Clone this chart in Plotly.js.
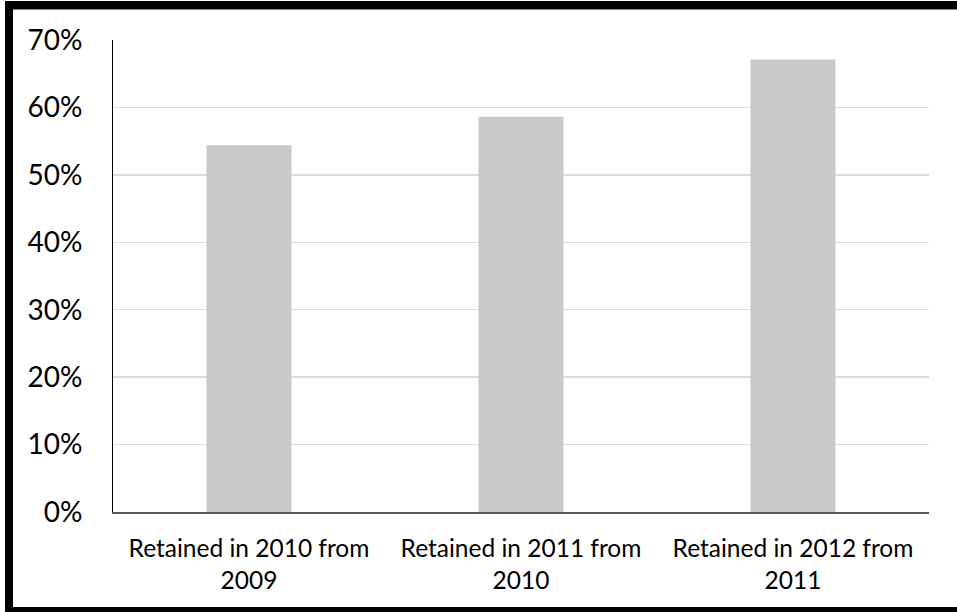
<!DOCTYPE html>
<html>
<head>
<meta charset="utf-8">
<script src="https://cdn.plot.ly/plotly-3.0.1.min.js"></script>
<style>
  html, body { margin: 0; padding: 0; background: #ffffff; }
  #chart { width: 957px; height: 612px; }
</style>
</head>
<body>
<div id="chart"></div>
<script>
// Share of members retained from one year to the next
const categories = [
  'Retained in 2010 from<br>2009',
  'Retained in 2011 from<br>2010',
  'Retained in 2012 from<br>2011'
];
const retained = [0.544, 0.586, 0.671];
const yTicks = [0, 0.1, 0.2, 0.3, 0.4, 0.5, 0.6, 0.7];

const W = 957, H = 612;
const M = { l: 113, r: 28, t: 40, b: 100 };
const plotW = W - M.l - M.r;
const plotH = H - M.t - M.b;

// frame pieces around the figure, given in pixels and mapped to paper units
function pxRect(x0, y0, x1, y1) {
  return {
    type: 'rect', xref: 'paper', yref: 'paper',
    x0: (x0 - M.l) / plotW, x1: (x1 - M.l) / plotW,
    y0: (H - M.b - y0) / plotH, y1: (H - M.b - y1) / plotH,
    fillcolor: '#000000', line: { width: 0 }, layer: 'above'
  };
}

const trace = {
  type: 'bar',
  x: categories,
  y: retained,
  marker: { color: '#c9c9c9', line: { width: 0 } },
  hoverinfo: 'x+y'
};

const layout = {
  width: W, height: H,
  margin: M,
  paper_bgcolor: '#ffffff',
  plot_bgcolor: '#ffffff',
  bargap: 0.6875,
  showlegend: false,
  font: { family: 'Lato, "Open Sans", sans-serif', color: '#000000' },
  xaxis: {
    type: 'category',
    showgrid: false,
    zeroline: false,
    showline: true,
    linecolor: '#595959',
    linewidth: 1.5,
    ticks: '',
    tickfont: { size: 24.5, color: '#000000' },
    ticklabelstandoff: 14
  },
  yaxis: {
    range: [0, 0.7],
    tickvals: yTicks,
    tickformat: '.0%',
    showgrid: true,
    gridcolor: '#dcdcdc',
    gridwidth: 1.5,
    zeroline: false,
    showline: true,
    linecolor: '#000000',
    linewidth: 1,
    ticks: '',
    tickfont: { size: 28, color: '#000000' },
    ticklabelstandoff: 24
  },
  shapes: [
    pxRect(5, 1, 957, 9.5),
    pxRect(5, 1, 13, 612),
    pxRect(5, 607, 957, 612)
  ]
};

Plotly.newPlot('chart', [trace], layout, { displayModeBar: false, staticPlot: true });
</script>
</body>
</html>
